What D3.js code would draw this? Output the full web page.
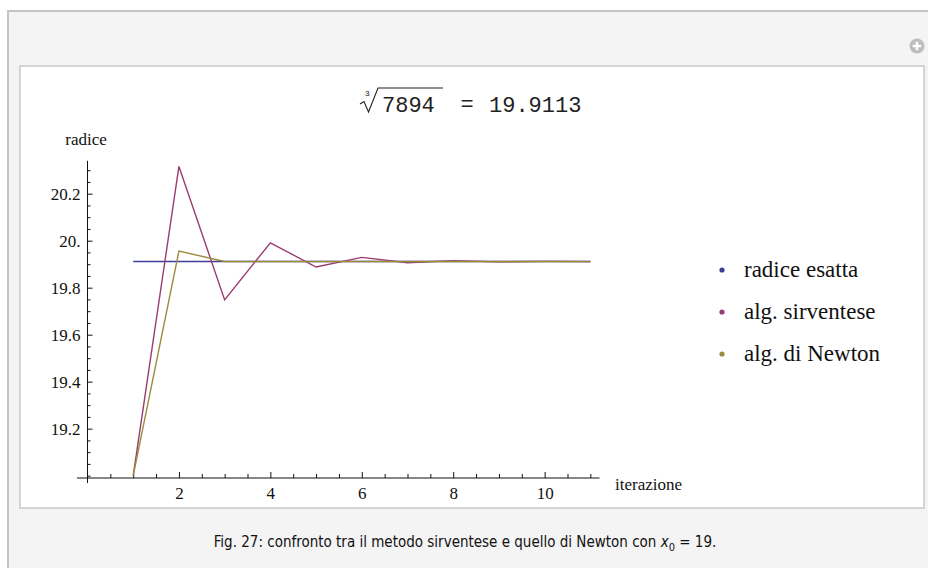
<!DOCTYPE html>
<html lang="it">
<head>
<meta charset="UTF-8">
<title>Radice cubica: sirventese vs Newton</title>
<script src="https://d3js.org/d3.v7.min.js"></script>
<style>
    body { margin: 0; background: #ffffff; overflow: hidden; }
    svg { display: block; }
    .tick line { stroke: #111; stroke-width: 1; }
    .tick text { font-family: "Liberation Serif", "Times New Roman", serif !important; font-size: 17px; fill: #111; }
    .lbl { font-family: "Liberation Serif", "Times New Roman", serif; font-size: 17px; fill: #111; }
    .legend text { font-family: "Liberation Serif", "Times New Roman", serif; font-size: 23px; fill: #111; }
    .title { font-family: "Liberation Mono", "Courier New", monospace; font-size: 22px; fill: #222; }
    .caption { font-family: "DejaVu Sans Condensed", Tahoma, "DejaVu Sans", sans-serif; font-size: 15px; fill: #111; }
</style>
</head>
<body>
<script>
// data
const iterations = [1, 2, 3, 4, 5, 6, 7, 8, 9, 10, 11];
const exactRoot = [19.9113, 19.9113, 19.9113, 19.9113, 19.9113, 19.9113, 19.9113, 19.9113, 19.9113, 19.9113, 19.9113];
const sirventese = [19, 20.316, 19.748, 19.991, 19.888, 19.929, 19.906, 19.915, 19.910, 19.912, 19.911];
const newton = [19, 19.9557, 19.9114, 19.9113, 19.9113, 19.9113, 19.9113, 19.9113, 19.9113, 19.9113, 19.9113];
const seriesNames = ["radice esatta", "alg. sirventese", "alg. di Newton"];
const seriesColors = ["#3d3d99", "#993d71", "#998c3d"];
const xTicks = [2, 4, 6, 8, 10];
const yTicks = [19.2, 19.4, 19.6, 19.8, 20.0, 20.2];

const width = 928, height = 568;

const svg = d3.select("body").append("svg")
    .attr("width", width)
    .attr("height", height);

// page frame
svg.append("rect").attr("x", 0).attr("y", 0).attr("width", width).attr("height", height).attr("fill", "#ffffff");
svg.append("rect").attr("x", 8).attr("y", 11).attr("width", width).attr("height", height)
    .attr("fill", "#f4f4f4").attr("stroke", "#c4c4c4").attr("stroke-width", 2);
svg.append("rect").attr("x", 20).attr("y", 66).attr("width", 904).attr("height", 442)
    .attr("fill", "#ffffff").attr("stroke", "#c8c8c8").attr("stroke-width", 1.5);

// little "+" icon in the corner
const icon = svg.append("g").attr("transform", "translate(917,46)");
icon.append("circle").attr("r", 7.5).attr("fill", "#bdbdbd");
icon.append("path").attr("d", "M-4.3,0H4.3M0,-4.3V4.3").attr("stroke", "#fff").attr("stroke-width", 2.5);

// scales
const x = d3.scaleLinear().domain([0, 11.2]).range([87.5, 599.5]);
const y = d3.scaleLinear().domain([18.99, 20.34]).range([478, 160.8]);

// axis lines
svg.append("line").attr("x1", 77).attr("x2", x(11.2)).attr("y1", y(18.99)).attr("y2", y(18.99))
    .attr("stroke", "#111").attr("stroke-width", 1);
svg.append("line").attr("x1", x(0)).attr("x2", x(0)).attr("y1", 483).attr("y2", y(20.34))
    .attr("stroke", "#111").attr("stroke-width", 1);

// minor ticks
const xMinor = d3.range(0.5, 11.01, 0.5).filter(v => v % 2 !== 0);
svg.append("g").attr("transform", `translate(0,${y(18.99)})`)
    .call(d3.axisBottom(x).tickValues(xMinor).tickSize(-4).tickFormat(""))
    .call(g => g.select(".domain").remove());
const yMinor = d3.range(19.0, 20.34, 0.05).map(v => +v.toFixed(2))
    .filter(v => !yTicks.some(t => Math.abs(t - v) < 1e-6));
svg.append("g").attr("transform", `translate(${x(0)},0)`)
    .call(d3.axisLeft(y).tickValues(yMinor).tickSize(-3).tickFormat(""))
    .call(g => g.select(".domain").remove());

// major ticks with labels
svg.append("g").attr("transform", `translate(0,${y(18.99)})`)
    .call(d3.axisBottom(x).tickValues(xTicks).tickSize(-6).tickPadding(9).tickFormat(d3.format("d")))
    .call(g => g.select(".domain").remove());
svg.append("g").attr("transform", `translate(${x(0)},0)`)
    .call(d3.axisLeft(y).tickValues(yTicks).tickSize(-5).tickPadding(7)
        .tickFormat(d => Math.abs(d % 1) < 1e-9 ? d.toFixed(0) + "." : d.toFixed(1)))
    .call(g => g.select(".domain").remove());

// axis labels
svg.append("text").attr("class", "lbl").attr("x", 86).attr("y", 145)
    .attr("text-anchor", "middle").text("radice");
svg.append("text").attr("class", "lbl").attr("x", 615).attr("y", 490).text("iterazione");

// series
const line = d3.line().x((d, i) => x(iterations[i])).y(d => y(d));
[exactRoot, sirventese, newton].forEach((s, k) => {
    svg.append("path").datum(s)
        .attr("d", line)
        .attr("fill", "none")
        .attr("stroke", seriesColors[k])
        .attr("stroke-width", 1.4)
        .attr("stroke-linejoin", "miter");
});

// legend
const legend = svg.append("g").attr("class", "legend").attr("transform", "translate(722,270)");
seriesNames.forEach((name, i) => {
    const row = legend.append("g").attr("transform", `translate(0,${i * 42})`);
    row.append("circle").attr("r", 2.6).attr("fill", seriesColors[i]);
    row.append("text").attr("x", 22).attr("y", 7).text(name);
});

// title: cube root of 7894
const title = svg.append("g");
title.append("path")
    .attr("d", "M360,104 L364,101.5 L368.5,112 L378,88 L443,88")
    .attr("fill", "none").attr("stroke", "#222").attr("stroke-width", 1.1);
title.append("text").attr("x", 365).attr("y", 96).attr("font-family", "Liberation Mono, monospace")
    .attr("font-size", 8).attr("fill", "#222").text("3");
title.append("text").attr("class", "title").attr("x", 382).attr("y", 112).text("7894");
title.append("text").attr("class", "title").attr("x", 467).attr("y", 111)
    .attr("text-anchor", "middle").attr("font-size", 16).attr("fill", "#555").text("=");
title.append("text").attr("class", "title").attr("x", 489).attr("y", 112)
    .text(d3.format(".4f")(exactRoot[0]));

// caption
const cap = svg.append("text").attr("class", "caption").attr("x", 465).attr("y", 547)
    .attr("text-anchor", "middle");
cap.append("tspan").text("Fig. 27: confronto tra il metodo sirventese e quello di Newton con ");
cap.append("tspan").attr("font-style", "italic").text("x");
cap.append("tspan").attr("font-size", 11).attr("dy", 4).text("0");
cap.append("tspan").attr("dy", -4).text(" = 19.");
</script>
</body>
</html>
